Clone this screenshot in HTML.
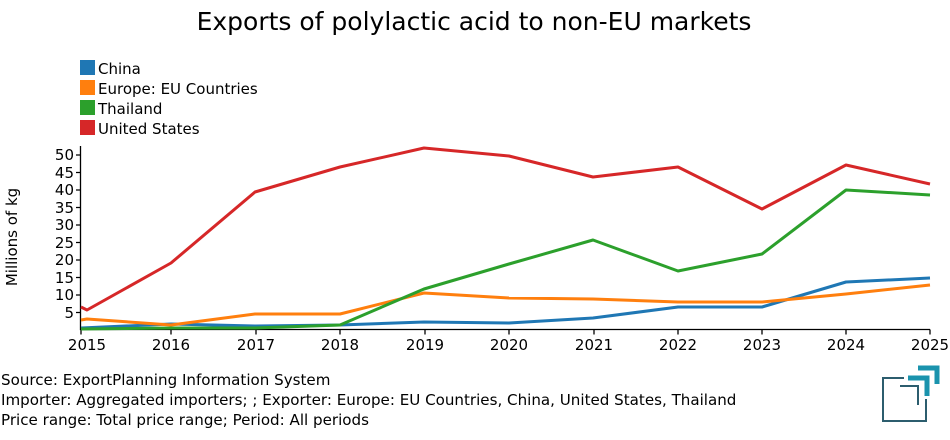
<!DOCTYPE html>
<html><head><meta charset="utf-8"><style>
html,body{margin:0;padding:0;background:#fff;}
svg text{font-family:"DejaVu Sans","Liberation Sans",sans-serif;}
</style></head><body>
<svg width="950" height="435" viewBox="0 0 950 435" xmlns="http://www.w3.org/2000/svg">
<text x="474" y="30" font-size="25" text-anchor="middle" fill="#000">Exports of polylactic acid to non-EU markets</text>
<g font-size="15" fill="#000">
<rect x="80" y="60" width="15" height="15" fill="#1f77b4"/><text x="98" y="74">China</text>
<rect x="80" y="80" width="15" height="15" fill="#ff7f0e"/><text x="98" y="94">Europe: EU Countries</text>
<rect x="80" y="100" width="15" height="15" fill="#2ca02c"/><text x="98" y="114">Thailand</text>
<rect x="80" y="120" width="15" height="15" fill="#d62728"/><text x="98" y="134">United States</text>
</g>
<g stroke="#000" stroke-width="1.3" fill="none">
<path d="M80.5 146V329.5H930"/>
<path d="M76 312.5H80.5M76 295H80.5M76 277.5H80.5M76 260H80.5M76 242.5H80.5M76 225H80.5M76 207.5H80.5M76 190H80.5M76 172.5H80.5M76 155H80.5"/>
<path d="M81 329.5v5M171 329.5v5M256 329.5v5M340 329.5v5M425 329.5v5M509 329.5v5M594 329.5v5M678 329.5v5M762 329.5v5M846 329.5v5M930 329.5v5"/>
</g>
<g font-size="15" fill="#000" text-anchor="end">
<text x="74" y="318">5</text><text x="74" y="300">10</text><text x="74" y="283">15</text><text x="74" y="265">20</text><text x="74" y="248">25</text><text x="74" y="230">30</text><text x="74" y="213">35</text><text x="74" y="195">40</text><text x="74" y="178">45</text><text x="74" y="160">50</text>
</g>
<g font-size="15" fill="#000" text-anchor="middle">
<text x="87" y="350">2015</text><text x="171" y="350">2016</text><text x="256" y="350">2017</text><text x="340" y="350">2018</text><text x="425" y="350">2019</text><text x="509" y="350">2020</text><text x="594" y="350">2021</text><text x="678" y="350">2022</text><text x="762" y="350">2023</text><text x="846" y="350">2024</text><text x="930" y="350">2025</text>
</g>
<text transform="translate(17,237) rotate(-90)" font-size="15" text-anchor="middle" fill="#000">Millions of kg</text>
<g fill="none" stroke-width="3" stroke-linejoin="round">
<polyline stroke="#1f77b4" points="81,328 171,324 255,326 340,325 424,322 509,323 593,318 678,307 762,307 846,282 930,278"/>
<polyline stroke="#ff7f0e" points="81,320 87,319 171,325 255,314 340,314 424,293 509,298 593,299 678,302 762,302 846,294 930,285"/>
<polyline stroke="#2ca02c" points="81,329 171,328 255,328 340,325 424,289 509,264 593,240 678,271 762,254 846,190 930,195"/>
<polyline stroke="#d62728" points="81,307 87,310 171,263 255,192 340,167 424,148 509,156 593,177 678,167 762,209 846,165 930,184"/>
</g>
<g font-size="15.1" fill="#000">
<text x="1" y="385">Source: ExportPlanning Information System</text>
<text x="1" y="405">Importer: Aggregated importers; ; Exporter: Europe: EU Countries, China, United States, Thailand</text>
<text x="1" y="425">Price range: Total price range; Period: All periods</text>
</g>
<g fill="none" stroke-width="3">
<path d="M904 378H883V421H926V399" stroke="#2c5d6e" stroke-width="2"/>
<path d="M900 386H918V405" stroke="#2c5d6e" stroke-width="2"/>
<path d="M908 378H927V396" stroke="#1a93ad" stroke-width="5"/>
<path d="M918 368H937V384" stroke="#1a93ad" stroke-width="5"/>
</g>
</svg>
</body></html>
